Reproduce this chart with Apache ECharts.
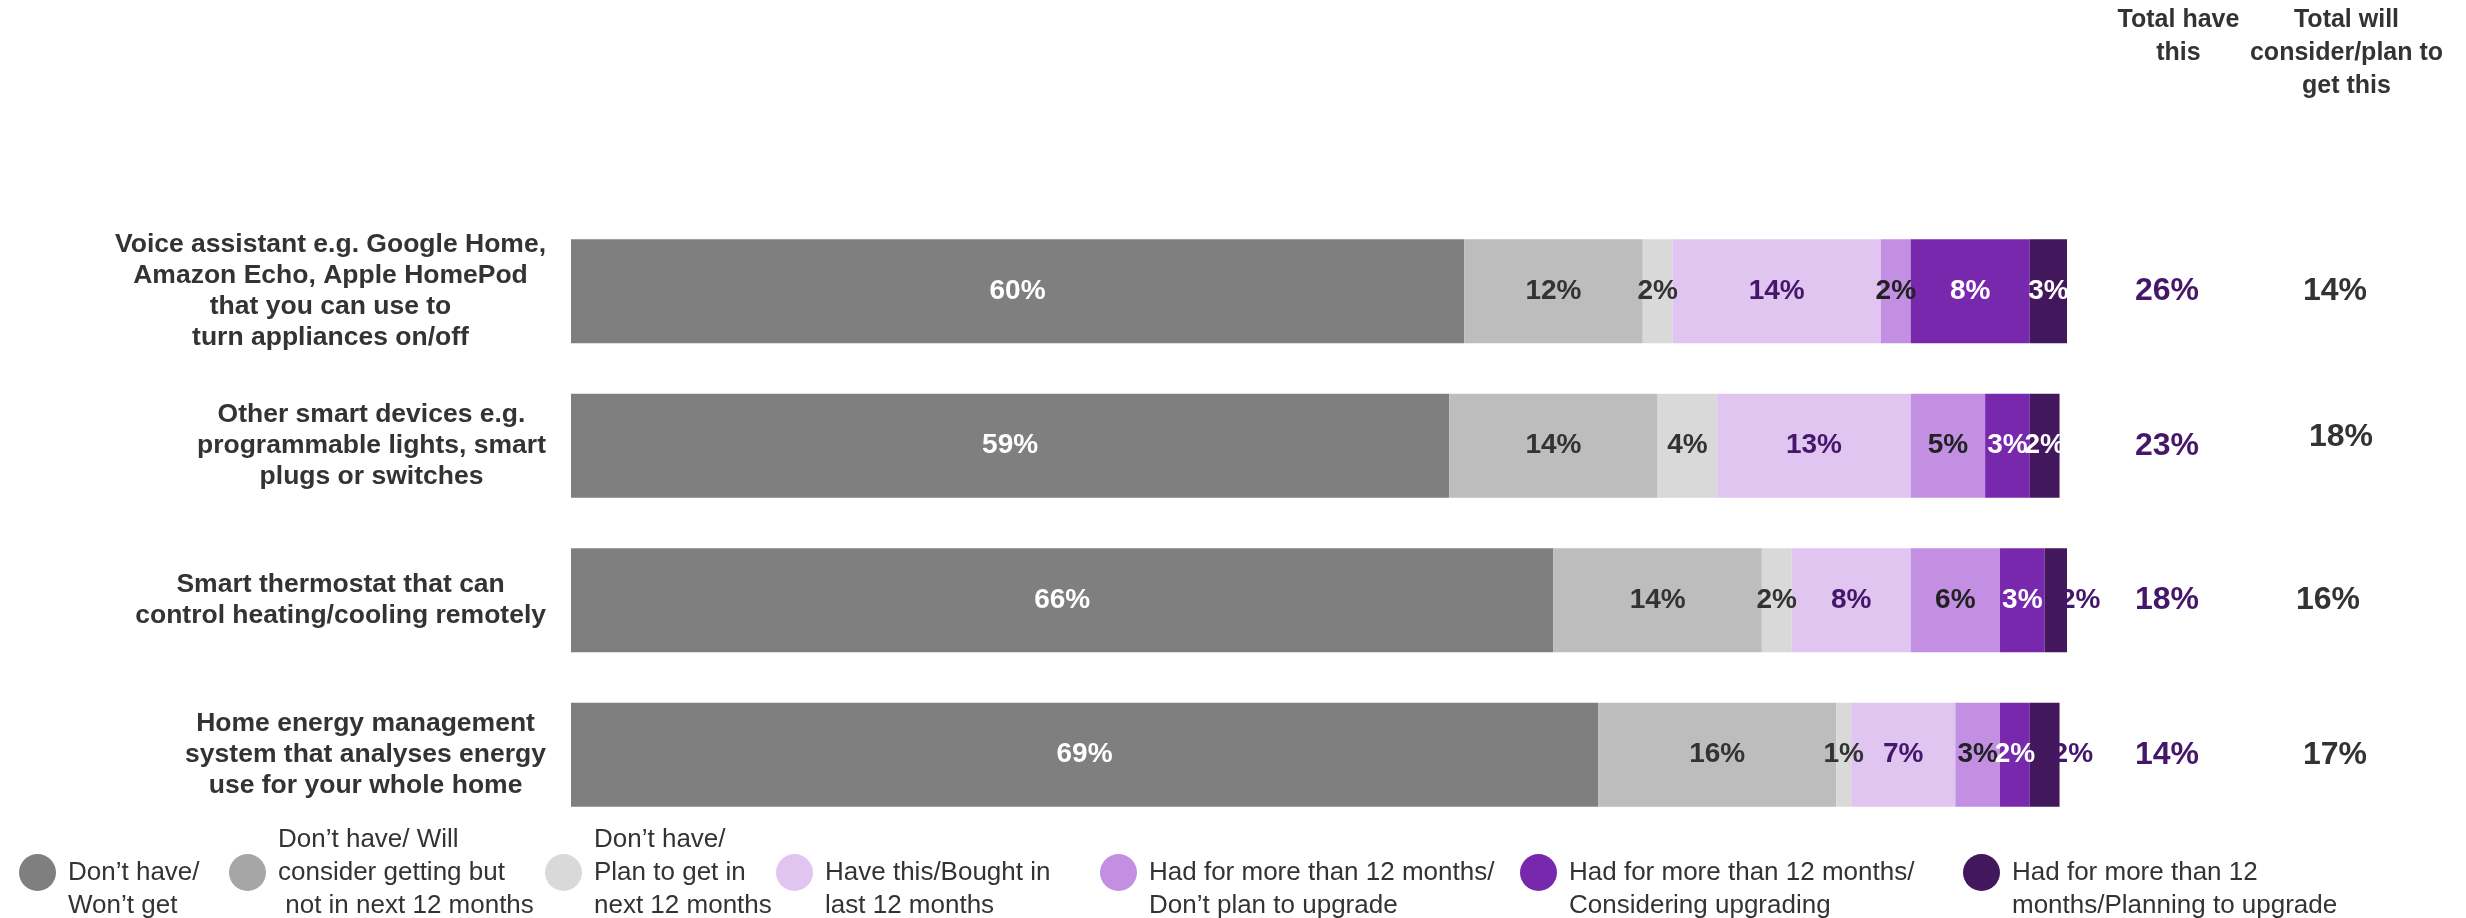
<!DOCTYPE html>
<html>
<head>
<meta charset="utf-8">
<title>Smart home device ownership</title>
<script src="https://cdn.jsdelivr.net/npm/echarts@6/dist/echarts.min.js"></script>
<style>
  html, body { margin: 0; padding: 0; background: #ffffff; }
  #chart { width: 2466px; height: 918px; }
</style>
</head>
<body>
<div id="chart"></div>
<script>
// Devices (rows, top to bottom)
const categories = [
  'Voice assistant e.g. Google Home,\nAmazon Echo, Apple HomePod\nthat you can use to\nturn appliances on/off',
  'Other smart devices e.g.\nprogrammable lights, smart\nplugs or switches',
  'Smart thermostat that can\ncontrol heating/cooling remotely',
  'Home energy management\nsystem that analyses energy\nuse for your whole home'
];

// Response groups (stack order, left to right)
const seriesNames = [
  'Don’t have/\nWon’t get',
  'Don’t have/ Will\nconsider getting but\n not in next 12 months',
  'Don’t have/\nPlan to get in\nnext 12 months',
  'Have this/Bought in\nlast 12 months',
  'Had for more than 12 months/\nDon’t plan to upgrade',
  'Had for more than 12 months/\nConsidering upgrading',
  'Had for more than 12\nmonths/Planning to upgrade'
];

// Share of respondents per group, %
const dontHaveWontGet   = [60, 59, 66, 69];
const considerNotSoon   = [12, 14, 14, 16];
const planNext12Months  = [2, 4, 2, 1];
const boughtLast12      = [14, 13, 8, 7];
const hadNoUpgrade      = [2, 5, 6, 3];
const hadConsidering    = [8, 3, 3, 2];
const hadPlanning       = [3, 2, 2, 2];

// Summary columns, %
const totalHaveHeader = 'Total have\nthis';
const totalConsiderHeader = 'Total will\nconsider/plan to\nget this';
const totalHave     = [26, 23, 18, 14];
const totalConsider = [14, 18, 16, 17];

const FONT = '"Liberation Sans", Arial, Helvetica, sans-serif';
const TEXT = '#333333';
const DEEP = '#45176a';

const segments = [dontHaveWontGet, considerNotSoon, planNext12Months, boughtLast12,
                  hadNoUpgrade, hadConsidering, hadPlanning];
const barColors   = ['#7f7f7f', '#bdbdbd', '#d9d9d9', '#e0c5f0', '#c28fe3', '#7828ac', '#42175c'];
const legendIcons = ['#7f7f7f', '#a6a6a6', '#d9d9d9', '#e0c5f0', '#c28fe3', '#7828ac', '#42175c'];
const labelColors = ['#ffffff', TEXT, TEXT, DEEP, '#222222', '#ffffff', '#ffffff'];
const legendLefts = [19, 229, 545, 776, 1100, 1520, 1963];

// thin last segments on the lower two rows get their label just past the bar end
const outsideLastLabel = [false, false, true, true];

const GRID_TOP = 214;
const GRID_BOTTOM = 86;

const barSeries = segments.map((vals, si) => ({
  name: seriesNames[si],
  type: 'bar',
  stack: 'share',
  xAxisIndex: 0,
  yAxisIndex: 0,
  barWidth: 104,
  itemStyle: { color: barColors[si] },
  label: {
    show: true,
    position: 'inside',
    formatter: p => p.value + '%',
    color: labelColors[si],
    textBorderWidth: 0,
    fontSize: 28,
    fontWeight: 'bold',
    fontFamily: FONT
  },
  data: vals.map((v, ri) => (si === segments.length - 1 && outsideLastLabel[ri])
    ? { value: v, label: { position: 'right', distance: -7, color: DEEP } }
    : v)
}));

const totalLabel = (color) => ({
  show: true,
  position: 'inside',
  formatter: p => p.value[2] + '%',
  color: color,
  textBorderWidth: 0,
  fontSize: 32,
  fontWeight: 'bold',
  fontFamily: FONT
});

// summary figures are text-only points on the right-hand grid
const totalsHaveSeries = {
  type: 'scatter',
  xAxisIndex: 1,
  yAxisIndex: 1,
  symbolSize: 0,
  itemStyle: { color: DEEP, opacity: 1 },
  label: totalLabel(DEEP),
  data: totalHave.map((v, i) => [0, i, v])
};

const considerOffsets = [[0, 0], [6, -9], [-7, 0], [0, 0]];
const totalsConsiderSeries = {
  type: 'scatter',
  xAxisIndex: 1,
  yAxisIndex: 1,
  symbolSize: 0,
  itemStyle: { color: '#333333', opacity: 1 },
  label: totalLabel('#333333'),
  data: totalConsider.map((v, i) => ({ value: [1, i, v], label: { offset: considerOffsets[i] } }))
};

const legends = seriesNames.map((name, i) => ({
  data: [{ name: name, itemStyle: { color: legendIcons[i] } }],
  left: legendLefts[i],
  top: 815,
  padding: 0,
  icon: 'circle',
  itemWidth: 37,
  itemHeight: 37,
  selectedMode: false,
  formatter: n => (n.split('\n').length < 3 ? '\n' : '') + n,
  textStyle: {
    fontSize: 26,
    fontFamily: FONT,
    color: TEXT,
    lineHeight: 33,
    padding: [0, 0, 16, 7]
  }
}));

const option = {
  animation: false,
  backgroundColor: '#ffffff',
  legend: legends,
  grid: [
    { left: 571, right: 399, top: GRID_TOP, bottom: GRID_BOTTOM },
    { left: 2083, right: 47, top: GRID_TOP, bottom: GRID_BOTTOM }
  ],
  xAxis: [
    { type: 'value', gridIndex: 0, min: 0, max: 100.5, show: false },
    {
      type: 'category',
      gridIndex: 1,
      position: 'top',
      data: [totalHaveHeader, totalConsiderHeader],
      axisLine: { show: false },
      axisTick: { show: false },
      splitLine: { show: false },
      axisLabel: {
        interval: 0,
        margin: 210,
        verticalAlign: 'top',
        align: 'center',
        fontSize: 25,
        fontWeight: 'bold',
        fontFamily: FONT,
        color: TEXT,
        lineHeight: 33,
        padding: [0, 0, 0, 23]
      }
    }
  ],
  yAxis: [
    {
      type: 'category',
      gridIndex: 0,
      inverse: true,
      data: categories,
      axisLine: { show: false },
      axisTick: { show: false },
      splitLine: { show: false },
      axisLabel: {
        interval: 0,
        margin: 25,
        formatter: v => v.split('\n').map(l => '{c|' + l + '}').join('\n'),
        rich: {
          c: {
            align: 'center',
            fontSize: 26.5,
            fontWeight: 'bold',
            fontFamily: FONT,
            color: TEXT,
            lineHeight: 31
          }
        }
      }
    },
    {
      type: 'category',
      gridIndex: 1,
      inverse: true,
      data: categories,
      show: false
    }
  ],
  series: [...barSeries, totalsHaveSeries, totalsConsiderSeries]
};

const chart = echarts.init(document.getElementById('chart'), null, { renderer: 'canvas' });
chart.setOption(option);
</script>
</body>
</html>
